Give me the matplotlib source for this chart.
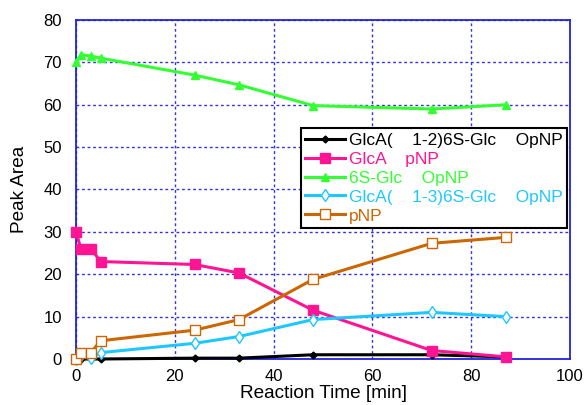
import numpy as np
import matplotlib.pyplot as plt

plt.rcParams['font.family'] = ['Liberation Sans', 'DejaVu Sans']

time_min = [0, 1, 3, 5, 24, 33, 48, 72, 87]

glca12 = [0, 0, 0, 0, 0.2, 0.2, 1.0, 1.0, 0.5]
glca_pnp = [30, 26, 26, 23, 22.3, 20.3, 11.5, 2.0, 0.5]
s6glc_opnp = [70, 71.8, 71.5, 71, 67, 64.7, 59.8, 59, 60]
glca13 = [0, 1.0, 0.3, 1.5, 3.7, 5.3, 9.3, 11.0, 10.0]
pnp = [0, 1.5, 1.5, 4.3, 6.8, 9.3, 18.8, 27.3, 28.7]

labels = ['GlcA(    1-2)6S-Glc    OpNP', 'GlcA    pNP', '6S-Glc    OpNP',
          'GlcA(    1-3)6S-Glc    OpNP', 'pNP']
colors = ['black', '#FF1493', '#33FF33', '#1EC8FF', '#CC6600']

fig = plt.figure(figsize=(5.86, 4.05), dpi=100)
ax = fig.add_axes([0.1297, 0.1136, 0.843, 0.837])

kw = dict(lw=2.2, clip_on=False, zorder=3)
ax.plot(time_min, glca12, '-D', color=colors[0], ms=3.5, label=labels[0], **kw)
ax.plot(time_min, glca_pnp, '-s', color=colors[1], ms=6.5, label=labels[1], **kw)
ax.plot(time_min, s6glc_opnp, '-^', color=colors[2], ms=6, label=labels[2], **kw)
ax.plot(time_min, glca13, '-d', color=colors[3], ms=6, mfc='white', label=labels[3], **kw)
ax.plot(time_min, pnp, '-s', color=colors[4], ms=7, mfc='white', label=labels[4], **kw)

ax.set_xlim(0, 100)
ax.set_ylim(0, 80)
ax.set_xticks(np.arange(0, 101, 20))
ax.set_yticks(np.arange(0, 81, 10))
ax.grid(True, color='#3333DD', linestyle=(0, (2, 2)), lw=1)
for s in ax.spines.values():
    s.set_color('#2222DD')
    s.set_linewidth(1.3)
ax.tick_params(length=0, labelsize=12)
ax.tick_params(axis='y', pad=10)
ax.tick_params(axis='x', pad=7)
ax.set_xlabel('Reaction Time [min]', fontsize=13.7, labelpad=1)
ax.set_ylabel('Peak Area', fontsize=13.7, labelpad=11)

leg = ax.legend(loc='upper left', bbox_to_anchor=(0.455, 0.681), fontsize=12.5,
                frameon=True, fancybox=False, shadow=False, borderpad=0.25,
                labelspacing=0.22, handlelength=2.3, handletextpad=0.2,
                borderaxespad=0)
leg.get_frame().set_edgecolor('black')
leg.get_frame().set_linewidth(1.5)
leg.get_frame().set_alpha(1)
leg.set_zorder(5)
for txt, c in zip(leg.get_texts(), colors):
    txt.set_color(c)

fig.savefig('out.png', dpi=100)
